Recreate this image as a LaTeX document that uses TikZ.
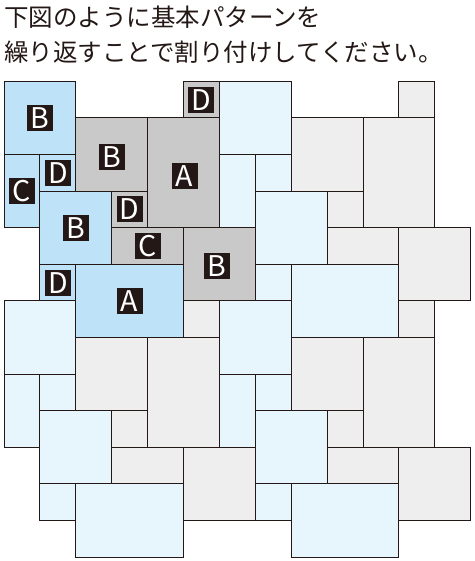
\documentclass[tikz,border=0pt]{standalone}
\usepackage{fontspec}
\newfontfamily\jpfont{Noto Sans CJK JP}
\definecolor{ink}{HTML}{231815}
\definecolor{hiblue}{RGB}{190,227,248}
\definecolor{loblue}{RGB}{231,245,253}
\definecolor{higray}{RGB}{201,201,201}
\definecolor{logray}{RGB}{238,238,238}
\newcommand\tl[5]{\filldraw[tilebox,fill=#5] (#1,#2) rectangle ++(#3,#4);}
\newcommand\motif[4]{%
\begin{scope}[shift={(#1,#2)}]
\tl{0}{0}{2}{2}{#3}\tl{0}{2}{1}{2}{#3}\tl{1}{2}{1}{1}{#3}
\tl{1}{3}{2}{2}{#3}\tl{1}{5}{1}{1}{#3}\tl{2}{5}{3}{2}{#3}
\tl{5}{0}{1}{1}{#4}\tl{2}{1}{2}{2}{#4}\tl{4}{1}{2}{3}{#4}
\tl{3}{3}{1}{1}{#4}\tl{3}{4}{2}{1}{#4}\tl{5}{4}{2}{2}{#4}
\end{scope}}
\begin{document}
\begin{tikzpicture}[x=1pt,y=-1pt,
  tilebox/.style={draw=ink,line width=1pt},
  lbl/.style={fill=ink,text=white,inner sep=0pt,minimum size=26pt,
    font=\jpfont\fontsize{28.5pt}{28.5pt}\selectfont},
  headtext/.style={anchor=base west,inner sep=0pt,text=ink,
    font=\jpfont\fontsize{24.5pt}{24.5pt}\selectfont}]
\useasboundingbox (0,0) rectangle (474,561);
\node[headtext] (l1) at (4,27) {下図のように基本パターンを};
\node[headtext] (l2) at (4,62) {繰り返すことで割り付けしてください。};
\begin{scope}[shift={(4pt,-81.3pt)},x=35.9pt,y=-36.6pt]
\motif{0}{0}{hiblue}{higray}
\motif{6}{0}{loblue}{logray}
\motif{0}{6}{loblue}{logray}
\motif{6}{6}{loblue}{logray}
\node[lbl] (b1) at (1,1) {B};
\node[lbl] (c1) at (0.5,3) {C};
\node[lbl] (d1) at (1.5,2.5) {D};
\node[lbl] (b2) at (2,4) {B};
\node[lbl] (d2) at (1.5,5.5) {D};
\node[lbl] (a1) at (3.5,6) {A};
\node[lbl] (d3) at (5.5,0.5) {D};
\node[lbl,yshift=-3pt] (b3) at (3,2) {B};
\node[lbl,xshift=1pt,yshift=-3pt] (a2) at (5,2.5) {A};
\node[lbl] (d4) at (3.5,3.5) {D};
\node[lbl] (c2) at (4,4.5) {C};
\node[lbl,xshift=-2.5pt,yshift=-1.5pt] (b4) at (6,5) {B};
\end{scope}
\end{tikzpicture}
\end{document}
